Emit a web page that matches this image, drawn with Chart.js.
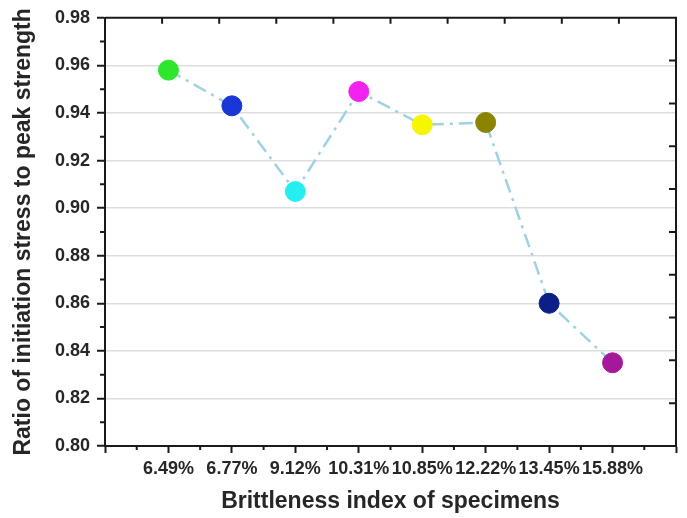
<!DOCTYPE html>
<html>
<head>
<meta charset="utf-8">
<script src="https://cdn.jsdelivr.net/npm/chart.js@4.4.1/dist/chart.umd.min.js"></script>
<style>
    html, body { margin: 0; padding: 0; background: #fff; }
    #wrap { width: 687px; height: 518px; position: relative; }
</style>
</head>
<body>
<div id="wrap"><canvas id="ratioChart"></canvas></div>
<script>
// Categories (brittleness index) and measured ratio
const brittleness = ['6.49%', '6.77%', '9.12%', '10.31%', '10.85%', '12.22%', '13.45%', '15.88%'];
const ratio = [0.958, 0.943, 0.907, 0.949, 0.935, 0.936, 0.860, 0.835];
const pointColors = ['#2ee62e', '#1a36d6', '#26eef0', '#f222f0', '#f6f600', '#8a8400', '#0b1f86', '#a6189a'];
const yTicks = [0.80, 0.82, 0.84, 0.86, 0.88, 0.90, 0.92, 0.94, 0.96, 0.98];

const textColor = '#262626';
const axisColor = '#1a1a1a';

// --------------------------------------------------------------------------

// minor ticks + frame (top / right border with inward ticks)
const frameTicks = {
    id: 'frameTicks',
    afterDraw(chart) {
        const { ctx, chartArea: a, scales: { x, y } } = chart;
        ctx.save();
        ctx.strokeStyle = axisColor;
        ctx.lineWidth = 2;

        ctx.beginPath();
        // minor x ticks (bottom, outward)
        for (let v = 0.5; v < 9; v += 1) {
            const px = x.getPixelForValue(v);
            ctx.moveTo(px, a.bottom);
            ctx.lineTo(px, a.bottom + 4);
        }
        // minor y ticks (left, outward)
        for (let i = 0; i < yTicks.length - 1; i++) {
            const py = y.getPixelForValue((yTicks[i] + yTicks[i + 1]) / 2);
            ctx.moveTo(a.left, py);
            ctx.lineTo(a.left - 5, py);
        }
        // top & right frame ticks (10 divisions, inward)
        for (let i = 1; i < 10; i++) {
            const px = a.left + (a.right - a.left) * i / 10;
            ctx.moveTo(px, a.top);
            ctx.lineTo(px, a.top + 6);
            const py = a.top + (a.bottom - a.top) * i / 10;
            ctx.moveTo(a.right, py);
            ctx.lineTo(a.right - 7, py);
        }
        ctx.stroke();

        ctx.beginPath();
        ctx.moveTo(a.left, a.top);
        ctx.lineTo(a.right, a.top);
        ctx.lineTo(a.right, a.bottom);
        ctx.stroke();
        ctx.restore();
    }
};

// --------------------------------------------------------------------------

const createRatioChart = () => {
    const ctx = document.getElementById('ratioChart').getContext('2d');

    new Chart(ctx, {
        type: 'line',
        data: {
            datasets: [{
                data: ratio.map((v, i) => ({ x: i + 1, y: v })),
                borderColor: '#9fd2e2',
                borderWidth: 2.5,
                borderDash: [14, 6, 3, 6],
                pointRadius: 10,
                pointHoverRadius: 10,
                pointBackgroundColor: pointColors,
                pointBorderColor: pointColors,
                pointBorderWidth: 1,
                fill: false,
                tension: 0
            }]
        },
        options: {
            responsive: true,
            maintainAspectRatio: false,
            animation: false,
            events: [],
            layout: { padding: { top: 17, right: 7, left: 0, bottom: 0 } },
            plugins: {
                legend: { display: false },
                tooltip: { enabled: false }
            },
            scales: {
                x: {
                    type: 'linear',
                    min: 0,
                    max: 9,
                    afterFit: s => { s.height = 72; },
                    afterBuildTicks: s => {
                        s.ticks = [0, 1, 2, 3, 4, 5, 6, 7, 8, 9].map(v => ({ value: v }));
                    },
                    ticks: {
                        autoSkip: false,
                        maxRotation: 0,
                        padding: 5,
                        color: textColor,
                        font: { family: 'Liberation Sans', size: 18, weight: 'bold' },
                        callback: v => brittleness[v - 1] || ''
                    },
                    grid: {
                        drawOnChartArea: false,
                        tickLength: 7,
                        tickWidth: 2,
                        tickColor: axisColor
                    },
                    border: { color: axisColor, width: 2 },
                    title: {
                        display: true,
                        text: 'Brittleness index of specimens',
                        color: textColor,
                        font: { family: 'Liberation Sans', size: 23, weight: 'bold' },
                        padding: { top: 0, bottom: 3 }
                    }
                },
                y: {
                    min: 0.80,
                    max: 0.98,
                    afterFit: s => { s.width = 105; },
                    afterBuildTicks: s => {
                        s.ticks = yTicks.map(v => ({ value: v }));
                    },
                    ticks: {
                        padding: 7,
                        color: textColor,
                        font: { family: 'Liberation Sans', size: 18, weight: 'bold' },
                        callback: v => v.toFixed(2)
                    },
                    grid: {
                        color: c => (c.tick && (c.index === 0 || c.index === yTicks.length - 1)) ? 'rgba(0,0,0,0)' : '#dedede',
                        lineWidth: 1.5,
                        tickLength: 8,
                        tickWidth: 2,
                        tickColor: axisColor
                    },
                    border: { color: axisColor, width: 2 },
                    title: {
                        display: true,
                        text: 'Ratio of initiation stress to peak strength',
                        color: textColor,
                        font: { family: 'Liberation Sans', size: 23, weight: 'bold' },
                        padding: { top: 10, bottom: 0 }
                    }
                }
            }
        },
        plugins: [frameTicks]
    });
};

createRatioChart();
</script>
</body>
</html>
